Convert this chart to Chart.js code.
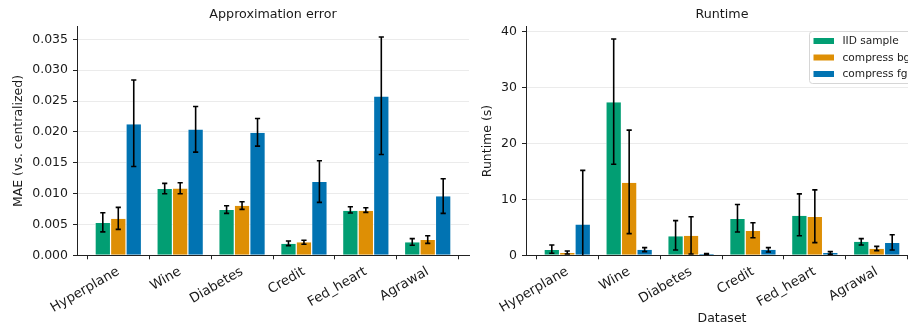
<!DOCTYPE html>
<html>
<head>
<meta charset="utf-8">
<script src="https://cdn.jsdelivr.net/npm/chart.js@4.4.1/dist/chart.umd.min.js"></script>
<style>
  body { margin: 0; background: #fff; overflow: hidden; }
  .box { position: absolute; top: 0; height: 329px; }
  #left { left: 0; width: 472px; }
  #right { left: 472px; width: 450px; }
</style>
</head>
<body>
<div class="box" id="left"><canvas id="errChart" width="472" height="329"></canvas></div>
<div class="box" id="right"><canvas id="timeChart" width="450" height="329"></canvas></div>
<script>
var datasets = ['Hyperplane', 'Wine', 'Diabetes', 'Credit', 'Fed_heart', 'Agrawal'];
var methods = ['IID sample', 'compress bg', 'compress fg'];
var colors = ['#029e73', '#de8f05', '#0173b2'];

// MAE (vs. centralized)
var maeIid = [0.00523, 0.01073, 0.00733, 0.00189, 0.00723, 0.0021];
var maeIidLo = [0.0038, 0.00998, 0.0068, 0.00156, 0.00685, 0.00162];
var maeIidHi = [0.0069, 0.01165, 0.00804, 0.00232, 0.00787, 0.0027];
var maeBg = [0.00593, 0.01084, 0.00804, 0.0021, 0.00723, 0.00248];
var maeBgLo = [0.0042, 0.00998, 0.00744, 0.00178, 0.00696, 0.00194];
var maeBgHi = [0.00777, 0.01176, 0.00868, 0.00243, 0.00771, 0.00318];
var maeFg = [0.02125, 0.02039, 0.01985, 0.01186, 0.02572, 0.00955];
var maeFgLo = [0.0144, 0.01672, 0.01769, 0.00857, 0.01634, 0.0068];
var maeFgHi = [0.02842, 0.02411, 0.02217, 0.01532, 0.03538, 0.0124];

// Runtime (s)
var rtIid = [0.95, 27.4, 3.4, 6.5, 7.08, 2.44];
var rtIidLo = [0.36, 16.3, 0.95, 4.17, 3.5, 1.85];
var rtIidHi = [1.84, 38.7, 6.2, 9.1, 11.0, 2.98];
var rtBg = [0.42, 13.0, 3.5, 4.35, 6.85, 1.19];
var rtBgLo = [0.24, 3.87, 0.24, 3.15, 2.26, 0.83];
var rtBgHi = [0.77, 22.4, 6.9, 5.83, 11.7, 1.6];
var rtFg = [5.53, 1.0, 0.24, 1.0, 0.42, 2.2];
var rtFgLo = [-4.1, 0.65, 0.16, 0.6, 0.18, 0.95];
var rtFgHi = [15.2, 1.37, 0.32, 1.37, 0.65, 3.69];

var font = 'DejaVu Sans';
var ink = '#1a1a1a';

function makeSets(vals, lows, highs) {
    return vals.map(function(v, k) {
        return {
            label: methods[k],
            data: v.map(function(y, i) { return {x: i, y: y}; }),
            lo: lows[k],
            hi: highs[k],
            backgroundColor: colors[k],
            borderColor: '#ffffff',
            borderWidth: {left: 0.6, right: 0.6, top: 0, bottom: 0},
            borderSkipped: false,
            categoryPercentage: 0.75,
            barPercentage: 1.0
        };
    });
}

// error bars drawn through the y scale
var errorBars = {
    id: 'errorBars',
    afterDatasetsDraw: function(chart) {
        var ctx = chart.ctx, area = chart.chartArea, ys = chart.scales.y;
        ctx.save();
        ctx.beginPath();
        ctx.rect(area.left, area.top, area.right - area.left, area.bottom - area.top);
        ctx.clip();
        ctx.strokeStyle = '#000';
        ctx.lineWidth = 1.6;
        chart.data.datasets.forEach(function(ds, k) {
            chart.getDatasetMeta(k).data.forEach(function(bar, i) {
                var x = bar.x;
                var y1 = ys.getPixelForValue(ds.lo[i]);
                var y2 = ys.getPixelForValue(ds.hi[i]);
                ctx.beginPath();
                ctx.moveTo(x, y1); ctx.lineTo(x, y2);
                ctx.moveTo(x - 2.6, y1); ctx.lineTo(x + 2.6, y1);
                ctx.moveTo(x - 2.6, y2); ctx.lineTo(x + 2.6, y2);
                ctx.stroke();
            });
        });
        ctx.restore();
    }
};

// legend box inside the plot, top right
var innerLegend = {
    id: 'innerLegend',
    afterDraw: function(chart) {
        if (!chart.options.plugins.innerLegend) return;
        var ctx = chart.ctx;
        var bx = 337.5, by = 31.5, bw = 106, bh = 52;
        ctx.save();
        ctx.beginPath();
        ctx.roundRect(bx, by, bw, bh, 3);
        ctx.fillStyle = 'rgba(255,255,255,0.8)';
        ctx.fill();
        ctx.strokeStyle = '#d6d6d6';
        ctx.lineWidth = 1;
        ctx.stroke();
        ctx.font = '10.6px ' + font;
        ctx.textBaseline = 'middle';
        chart.data.datasets.forEach(function(ds, k) {
            var cy = 41 + k * 16.5;
            ctx.fillStyle = ds.backgroundColor;
            ctx.fillRect(341.5, cy - 3, 20.5, 6);
            ctx.fillStyle = ink;
            ctx.fillText(ds.label, 370.5, cy + 0.5);
        });
        ctx.restore();
    }
};

function buildOptions(cfg) {
    return {
        responsive: false,
        animation: false,
        layout: {padding: {left: 0, right: cfg.padRight, top: 0, bottom: 0}},
        plugins: {
            legend: {display: false},
            tooltip: {enabled: false},
            innerLegend: cfg.legend,
            title: {
                display: true,
                fullSize: false,
                text: cfg.title,
                color: ink,
                font: {family: font, size: 12.7, weight: 'normal'},
                padding: {top: 7, bottom: 4.5}
            }
        },
        scales: {
            x: {
                type: 'linear',
                min: -0.667,
                max: 5.667,
                offset: false,
                afterBuildTicks: function(scale) {
                    scale.ticks = datasets.map(function(c, i) { return {value: i}; });
                },
                afterFit: function(scale) { scale.height = 73.7; },
                ticks: {
                    autoSkip: false,
                    minRotation: 30,
                    maxRotation: 30,
                    padding: 4.5,
                    color: ink,
                    font: {family: font, size: 13.3},
                    callback: function(v) { return datasets[v]; }
                },
                grid: {drawOnChartArea: false, drawTicks: true, tickLength: 4, tickColor: '#222'},
                border: {color: '#222', width: 1},
                title: {
                    display: cfg.xTitle !== '',
                    text: cfg.xTitle,
                    color: ink,
                    font: {family: font, size: 12.5},
                    padding: {top: 0, bottom: 3}
                }
            },
            y: {
                min: 0,
                max: cfg.yMax,
                afterFit: function(scale) { scale.width = cfg.yWidth; },
                ticks: {
                    stepSize: cfg.step,
                    includeBounds: false,
                    padding: 5,
                    color: ink,
                    font: {family: font, size: 12.5},
                    callback: cfg.fmt
                },
                grid: {color: '#ebebeb', lineWidth: 1, tickLength: 4, tickColor: '#222'},
                border: {color: '#222', width: 1},
                title: {
                    display: true,
                    text: cfg.yTitle,
                    color: ink,
                    font: {family: font, size: 12.5},
                    padding: {top: cfg.yTitlePad, bottom: 0}
                }
            }
        }
    };
}

new Chart(document.getElementById('errChart'), {
    type: 'bar',
    data: {datasets: makeSets([maeIid, maeBg, maeFg], [maeIidLo, maeBgLo, maeFgLo], [maeIidHi, maeBgHi, maeFgHi])},
    options: buildOptions({
        title: 'Approximation error', xTitle: '', yTitle: 'MAE (vs. centralized)',
        yMax: 0.03704, step: 0.005, yWidth: 77, yTitlePad: 11, padRight: 3, legend: false,
        fmt: function(v) { return v.toFixed(3); }
    }),
    plugins: [errorBars, innerLegend]
});

new Chart(document.getElementById('timeChart'), {
    type: 'bar',
    data: {datasets: makeSets([rtIid, rtBg, rtFg], [rtIidLo, rtBgLo, rtFgLo], [rtIidHi, rtBgHi, rtFgHi])},
    options: buildOptions({
        title: 'Runtime', xTitle: 'Dataset', yTitle: 'Runtime (s)',
        yMax: 40.9, step: 10, yWidth: 54, yTitlePad: 8, padRight: 4, legend: true,
        fmt: function(v) { return String(v); }
    }),
    plugins: [errorBars, innerLegend]
});
</script>
</body>
</html>
